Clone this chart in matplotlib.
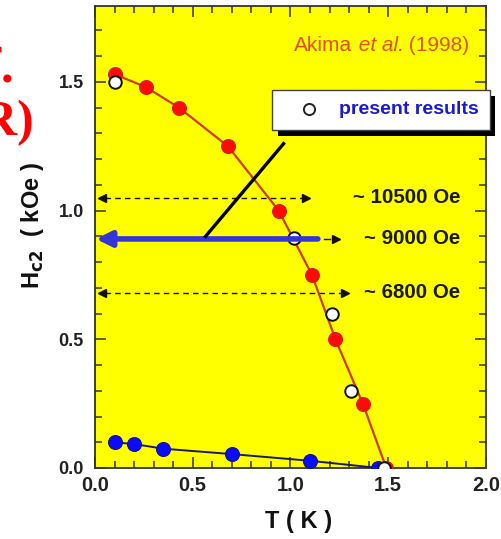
import matplotlib
matplotlib.use("Agg")
import matplotlib.pyplot as plt
from matplotlib.patches import Rectangle

# ---- data ----
akima_T = [0.10, 0.26, 0.43, 0.68, 0.94, 1.11, 1.23, 1.37, 1.49]
akima_H = [1.53, 1.48, 1.40, 1.25, 1.00, 0.75, 0.50, 0.25, 0.00]
present_T = [0.10, 1.02, 1.21, 1.31, 1.48]
present_H = [1.50, 0.895, 0.60, 0.30, 0.00]
blue_T = [0.10, 0.20, 0.35, 0.70, 1.10, 1.45]
blue_H = [0.10, 0.093, 0.075, 0.054, 0.028, 0.00]
field_levels = [1.05, 0.89, 0.68]
field_labels = ["~ 10500 Oe", "~ 9000 Oe", "~ 6800 Oe"]
x_ticks = [0.0, 0.5, 1.0, 1.5, 2.0]
y_ticks = [0.0, 0.5, 1.0, 1.5]

plt.rcParams['font.family'] = ['Liberation Sans', 'DejaVu Sans']

W, H = 502, 539
fig = plt.figure(figsize=(W / 100, H / 100), dpi=100)
fig.patch.set_facecolor('white')

def px(x0, y0, x1, y1):
    return [x0 / W, 1 - y1 / H, (x1 - x0) / W, (y1 - y0) / H]

ax = fig.add_axes(px(95, 6, 486, 468))
ax.set_facecolor('#ffff00')
ax.set_xlim(0, 2.0)
ax.set_ylim(0, 1.795)

for s in ax.spines.values():
    s.set_linewidth(1.3)
    s.set_color('#333333')

ax.set_xticks(x_ticks)
ax.set_yticks(y_ticks)
ax.set_xticks([i * 0.1 for i in range(21)], minor=True)
ax.set_yticks([i * 0.1 for i in range(18)], minor=True)
ax.set_xticklabels([f"{v:.1f}" for v in x_ticks])
ax.set_yticklabels([f"{v:.1f}" for v in y_ticks])
ax.tick_params(which='both', direction='in', top=True, right=True, color='#333333', width=1.1)
ax.tick_params(which='major', length=8)
ax.tick_params(which='minor', length=5)
ax.tick_params(axis='x', which='major', labelsize=14.5, pad=6, labelcolor='#222222')
ax.tick_params(axis='y', which='major', labelsize=13, pad=8, labelcolor='#222222')
for lab in ax.get_xticklabels() + ax.get_yticklabels():
    lab.set_fontweight('bold')

# curves
ax.plot(akima_T, akima_H, '-', color='#d03a10', lw=1.6, zorder=3)
ax.plot(akima_T, akima_H, 'o', ms=10, mfc='#ff0a0a', mec='#d02010', mew=0.8, zorder=4)
ax.plot(blue_T, blue_H, '-', color='#1a1a6a', lw=1.4, zorder=3)
ax.plot(blue_T, blue_H, 'o', ms=10, mfc='#0a0aff', mec='#10107a', mew=0.8, zorder=4)
ax.plot(present_T, present_H, 'o', ms=9, mfc='white', mec='#111111', mew=1.4, zorder=5)

# dashed guide arrows
ends = [1.11, None, 1.31]
for lvl, end in zip(field_levels, ends):
    if end is None:
        continue
    ax.plot([0.05, end - 0.04], [lvl, lvl], '--', color='#111111', lw=1.0, dashes=(4, 3), zorder=2)
    ax.plot([0.035], [lvl], marker='<', ms=6, color='#111111', zorder=2)
    ax.plot([end - 0.03], [lvl], marker='>', ms=6, color='#111111', zorder=2)

# blue thick arrow at 9000 Oe
ax.annotate('', xy=(0.005, field_levels[1]), xytext=(1.14, field_levels[1]),
            arrowprops=dict(arrowstyle='-|>,head_length=0.9,head_width=0.45',
                            lw=4, color='#3434d8', shrinkA=0, shrinkB=0), zorder=6)
ax.plot([1.17, 1.2], [field_levels[1]] * 2, '-', color='#111111', lw=1.0, zorder=2)
ax.plot([1.235], [field_levels[1]], marker='>', ms=6, color='#111111', zorder=2)

# black pointer line
ax.plot([0.56, 0.97], [0.895, 1.265], '-', color='black', lw=2.4, zorder=6, solid_capstyle='butt')

# field labels
for lvl, lab, x in zip(field_levels, field_labels, [1.32, 1.375, 1.375]):
    ax.text(x, lvl, lab, fontsize=14.8, fontweight='bold', color='#1a1a1a',
            va='center', ha='left', zorder=7)

# Akima text
t1 = ax.text(1.02, 1.64, "Akima", fontsize=15, color='#e0501a', ha='left', va='center')
t2 = ax.annotate(" et al.", xy=(1, 0.5), xycoords=t1, fontsize=15, color='#e0501a',
                 style='italic', ha='left', va='center')
t3 = ax.annotate(" (1998)", xy=(1, 0.5), xycoords=t2, fontsize=15, color='#e0501a',
                 ha='left', va='center')

# legend box with shadow
shadow = Rectangle((0.935, 1.29), 1.113, 0.155, transform=ax.transData,
                   facecolor='black', edgecolor='none', clip_on=False, zorder=8)
box = Rectangle((0.905, 1.315), 1.113, 0.155, transform=ax.transData,
                facecolor='white', edgecolor='#444444', lw=1.0, clip_on=False, zorder=9)
ax.add_patch(shadow)
ax.add_patch(box)
ax.plot([1.095], [1.393], 'o', ms=8, mfc='white', mec='#222222', mew=1.4, zorder=10, clip_on=False)
ax.text(1.25, 1.393, "present results", fontsize=14, fontweight='bold', color='#1a1ad0',
        ha='left', va='center', zorder=10)

# axis labels
ax.set_xlabel("T ( K )", fontsize=17, fontweight='bold', color='#111111')
ax.xaxis.set_label_coords(0.52, -0.09)
ax.set_ylabel("H$_{\\mathbf{c2}}$  ( kOe )", fontsize=17, fontweight='bold', color='#111111')
ax.yaxis.set_label_coords(-0.125, 0.525)

# red fragment text at left edge
fig.text(14 / W, 1 - 82 / H, "Ref.", fontsize=36, fontweight='bold', color='#ff0000',
         family='Liberation Serif', ha='right', va='baseline')
fig.text(34 / W, 1 - 135 / H, "(NMR)", fontsize=36, fontweight='bold', color='#ff0000',
         family='Liberation Serif', ha='right', va='baseline')

fig.savefig("out.png", dpi=100, facecolor='white')
